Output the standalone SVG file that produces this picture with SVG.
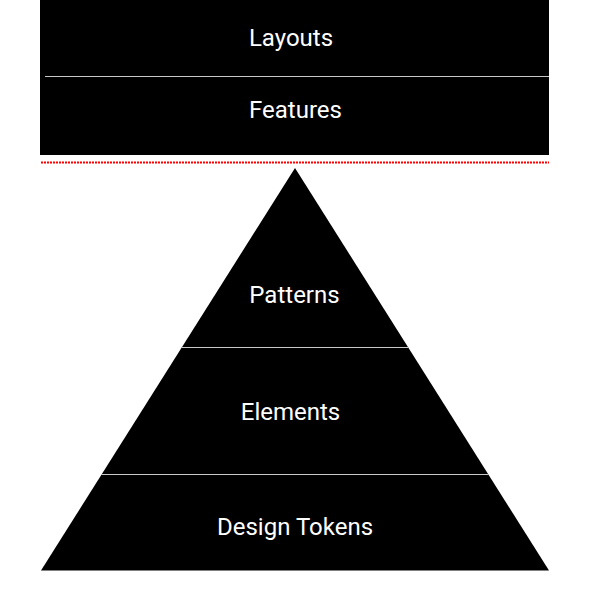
<svg xmlns="http://www.w3.org/2000/svg" width="590" height="606" viewBox="0 0 590 606">
<style>
.blk{fill:#000;}
.div{stroke:#c8c8c8;stroke-width:1;fill:none;}
.lbl{font-family:Roboto,"Liberation Sans",sans-serif;font-size:24px;font-weight:400;fill:#fff;text-anchor:middle;}
</style>
<rect width="590" height="606" fill="#fff"/>
<g id="top-block">
<rect class="blk" x="40" y="0" width="509" height="155"/>
<line class="div" x1="45" y1="76.5" x2="549" y2="76.5"/>
</g>
<g id="node-layouts"><text class="lbl" x="291" y="46">Layouts</text></g>
<g id="node-features"><text class="lbl" x="295.5" y="117.5">Features</text></g>
<g id="connectors">
<line x1="41" y1="162.5" x2="549" y2="162.5" stroke="#ff0000" stroke-width="2" stroke-dasharray="2 1"/>
</g>
<g id="pyramid">
<polygon class="blk" points="295,168 549,570.5 41,570.5"/>
<line class="div" x1="181.7" y1="347.5" x2="408.3" y2="347.5"/>
<line class="div" x1="101.3" y1="474.5" x2="488.7" y2="474.5"/>
</g>
<g id="node-patterns"><text class="lbl" x="294.5" y="303">Patterns</text></g>
<g id="node-elements"><text class="lbl" x="290.5" y="419.5">Elements</text></g>
<g id="node-design-tokens"><text class="lbl" x="295" y="535">Design Tokens</text></g>
</svg>
